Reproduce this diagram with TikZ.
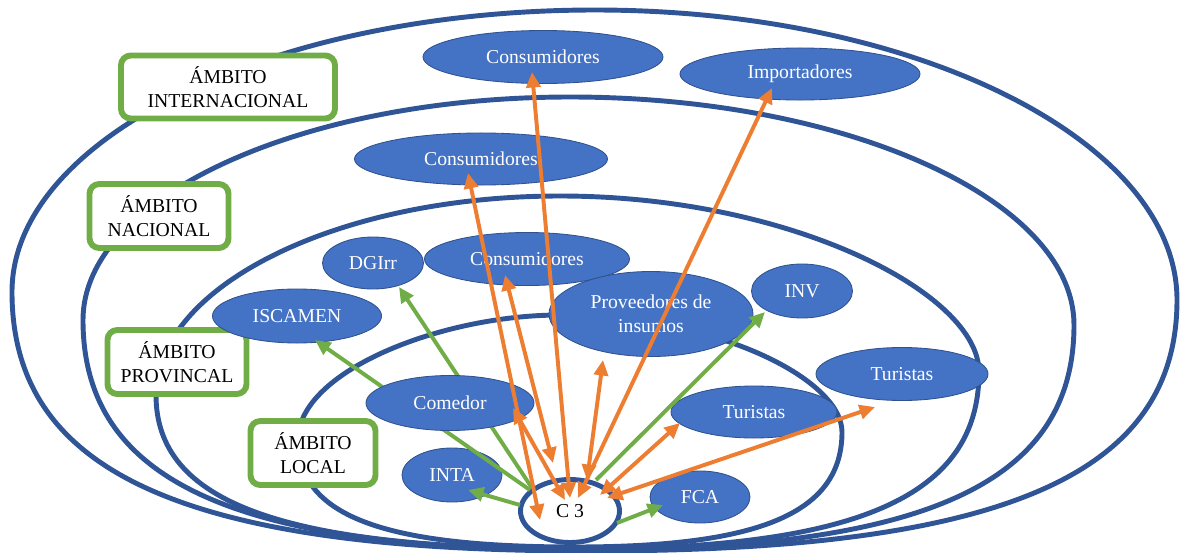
\documentclass[tikz,border=0pt]{standalone}
\usepackage{fontspec}
\setmainfont{Liberation Serif}
\usetikzlibrary{shapes.geometric,arrows.meta,calc}

\definecolor{nodeblue}{RGB}{68,114,196}
\definecolor{nodeedge}{RGB}{47,82,143}
\definecolor{ringblue}{RGB}{47,85,151}
\definecolor{boxgreen}{RGB}{112,173,71}
\definecolor{arrorange}{RGB}{237,125,49}

\tikzset{
	ambitoring/.style={draw=ringblue, line width=3.5pt},
	actor/.style={ellipse, fill=nodeblue, draw=nodeedge, line width=0.6pt, text=white,
		inner sep=0pt, align=center, font=\fontsize{14}{17}\selectfont},
	ambitobox/.style={rectangle, rounded corners=7pt, draw=boxgreen, line width=4.2pt,
		fill=white, inner sep=0pt, align=center, font=\fontsize{14}{17}\selectfont},
	grarr/.style={draw=boxgreen, line width=2.8pt, -{Triangle[length=11pt,width=10pt]}},
	orarr/.style={draw=arrorange, line width=2.8pt,
		{Triangle[length=11pt,width=10pt]}-{Triangle[length=11pt,width=10pt]}},
}

\begin{document}
\begin{tikzpicture}[x=0.025cm, y=-0.025cm]
	\useasboundingbox (0,0) rectangle (1180,553);
	%%%%%%%%%% ambitos
	\draw[ambitoring] (590,551) .. controls (185,551) and (12,473) .. (12,292)
		.. controls (12,137) and (274,10) .. (595,10)
		.. controls (915,10) and (1177,140) .. (1177,300)
		.. controls (1177,476) and (1001,551) .. (590,551) -- cycle;
	\draw[ambitoring] (585,550) .. controls (234,550) and (83,481) .. (83,320)
		.. controls (83,197) and (302,97) .. (570,97)
		.. controls (847,97) and (1074,200) .. (1074,325)
		.. controls (1074,483) and (927,550) .. (585,550) -- cycle;
	\draw[ambitoring] (580,549) .. controls (283,549) and (156,503) .. (156,395)
		.. controls (156,286) and (338,196) .. (560,196)
		.. controls (790,196) and (979,293) .. (979,372)
		.. controls (979,496) and (859,549) .. (580,549) -- cycle;
	\draw[ambitoring] (575,547) .. controls (381,547) and (298,515) .. (298,440)
		.. controls (298,371) and (442,315) .. (560,315)
		.. controls (715,315) and (842,379) .. (842,432)
		.. controls (842,512) and (762,547) .. (575,547) -- cycle;
	%%%%%%%%%% etiquetas
	\node[ambitobox, minimum width=5.35cm, minimum height=1.575cm] (bI) at (228,87) {ÁMBITO\\INTERNACIONAL};
	\node[ambitobox, minimum width=3.475cm, minimum height=1.6cm] (bN) at (159,216) {ÁMBITO\\NACIONAL};
	\node[ambitobox, minimum width=3.475cm, minimum height=1.6cm] (bP) at (177,362) {ÁMBITO\\PROVINCAL};
	\node[ambitobox, minimum width=3.125cm, minimum height=1.6cm] (bL) at (313,453) {ÁMBITO\\LOCAL};
	%%%%%%%%%% actores
	\node[actor, minimum width=6cm, minimum height=1.325cm] (consI) at (543,57) {Consumidores};
	\node[actor, minimum width=6cm, minimum height=1.3cm] (impI) at (800,74) {Importadores};
	\node[actor, minimum width=6.325cm, minimum height=1.3cm] (consN) at (481,159) {Consumidores};
	\node[actor, minimum width=2.525cm, minimum height=1.3cm] (dgirr) at (373,263) {DGIrr};
	\node[actor, minimum width=5.125cm, minimum height=1.325cm] (consP) at (527,259) {Consumidores};
	\node[actor, minimum width=4.225cm, minimum height=1.35cm] (iscamen) at (297,316) {ISCAMEN};
	\node[actor, minimum width=5.1cm, minimum height=2.125cm] (prov) at (651,314) {Proveedores de\\insumos};
	\node[actor, minimum width=2.525cm, minimum height=1.35cm] (inv) at (802,291) {INV};
	\node[actor, minimum width=4.3cm, minimum height=1.325cm] (turP) at (902,374) {Turistas};
	\node[actor, minimum width=4.15cm, minimum height=1.3cm] (turL) at (754,412) {Turistas};
	\node[actor, minimum width=2.5cm, minimum height=1.35cm] (inta) at (452,475) {INTA};
	\node[actor, minimum width=2.5cm, minimum height=1.3cm] (fca) at (700,497) {FCA};
	\node[ellipse, draw=ringblue, line width=3.5pt, fill=white, inner sep=0pt,
		minimum width=2.475cm, minimum height=1.575cm, font=\fontsize{14}{17}\selectfont] (c3) at (570,511) {C 3};
	%%%%%%%%%% por detras del comedor
	\draw[grarr] ($(c3)+(-40,-21)$) -- ($(iscamen)+(18,24)$);
	\draw[grarr] ($(c3)+(-38,-23)$) -- ($(dgirr)+(26,24)$);
	\node[actor, minimum width=4.2cm, minimum height=1.375cm] (comedor) at (450,403) {Comedor};
	%%%%%%%%%% flechas verdes
	\draw[grarr] ($(c3)+(-50,-6)$) -- ($(inta)+(16,15)$);
	\draw[grarr] ($(c3)+(47,12)$) -- ($(fca)+(-37,8)$);
	\draw[grarr] ($(c3)+(26,-31)$) -- ($(inv)+(-37,21)$);
	%%%%%%%%%% flechas naranjas
	\draw[orarr] ($(c3)+(-30,9)$) -- ($(consN)+(-13,14)$);
	\draw[orarr] ($(c3)+(-17,-48)$) -- ($(consP)+(-22,16)$);
	\draw[orarr] ($(c3)+(-5,-11)$) -- ($(comedor)+(63,5)$);
	\draw[orarr] ($(c3)+(0,-13)$) -- ($(consI)+(-11,15)$);
	\draw[orarr] ($(c3)+(8,-13)$) -- ($(impI)+(-28,14)$);
	\draw[orarr] ($(c3)+(17,-31)$) -- ($(prov)+(-48,46)$);
	\draw[orarr] ($(c3)+(30,-16)$) -- ($(turL)+(-74,11)$);
	\draw[orarr] ($(c3)+(37,-13)$) -- ($(turP)+(-27,33)$);
\end{tikzpicture}
\end{document}
